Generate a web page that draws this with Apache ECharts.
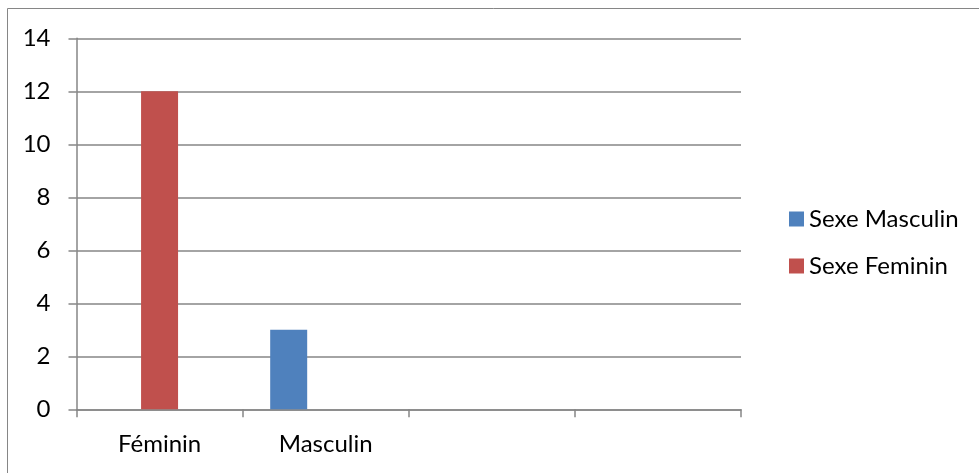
<!DOCTYPE html>
<html>
<head>
<meta charset="utf-8">
<script src="https://cdn.jsdelivr.net/npm/echarts@6/dist/echarts.min.js"></script>
<style>
  html, body { margin: 0; padding: 0; background: #fff; }
  #chart { width: 979px; height: 473px; }
</style>
</head>
<body>
<div id="chart"></div>
<script>
// Categories along the x axis (two trailing slots are left blank)
const categories = ['Féminin', 'Masculin', '', ''];
// Series values
const masculinValues = ['-', 3, '-', '-'];
const femininValues = [12, '-', '-', '-'];
const spareValues = ['-', '-', '-', '-'];
// Y axis scale
const yMin = 0;
const yMax = 14;
const yStep = 2;

const FONT = 'Lato';
const FONT_SIZE = 24;
const GRID = '#868686';
const chart = echarts.init(document.getElementById('chart'));

chart.setOption({
  animation: false,
  backgroundColor: '#ffffff',
  textStyle: { fontFamily: FONT },
  graphic: [{
    type: 'rect',
    shape: { x: 7.5, y: 8.5, width: 1000, height: 500 },
    style: { fill: 'none', stroke: GRID, lineWidth: 1 },
    silent: true
  }],
  grid: { left: 76.5, right: 238, top: 38.3, bottom: 63.7, containLabel: false },
  legend: {
    orient: 'vertical',
    left: 784,
    top: 202,
    itemWidth: 15,
    itemHeight: 15,
    itemGap: 23,
    icon: 'rect',
    data: ['Sexe Masculin', 'Sexe Feminin'],
    textStyle: { fontFamily: FONT, fontSize: FONT_SIZE, color: '#000' }
  },
  xAxis: {
    type: 'category',
    data: categories,
    boundaryGap: true,
    axisLine: { show: true, lineStyle: { color: GRID, width: 1.5 } },
    axisTick: { show: true, length: 8, lineStyle: { color: GRID, width: 1.5 } },
    axisLabel: { color: '#000', fontSize: FONT_SIZE, fontFamily: FONT, margin: 23 },
    splitLine: { show: false }
  },
  yAxis: {
    type: 'value',
    min: yMin,
    max: yMax,
    interval: yStep,
    axisLine: { show: true, lineStyle: { color: GRID, width: 1.5 } },
    axisTick: { show: true, length: 8, lineStyle: { color: GRID, width: 1.5 } },
    axisLabel: { color: '#000', fontSize: FONT_SIZE, fontFamily: FONT, margin: 26 },
    splitLine: { show: true, lineStyle: { color: GRID, width: 1.5 } }
  },
  series: [
    {
      name: 'Sexe Masculin',
      type: 'bar',
      data: masculinValues,
      barWidth: 37,
      barGap: '0%',
      itemStyle: { color: '#4F81BD' }
    },
    {
      name: 'Sexe Feminin',
      type: 'bar',
      data: femininValues,
      barWidth: 37,
      barGap: '0%',
      itemStyle: { color: '#C0504D' }
    },
    {
      name: 'spare',
      type: 'bar',
      data: spareValues,
      barWidth: 37,
      barGap: '0%',
      itemStyle: { color: '#9BBB59' }
    }
  ]
});
</script>
</body>
</html>
